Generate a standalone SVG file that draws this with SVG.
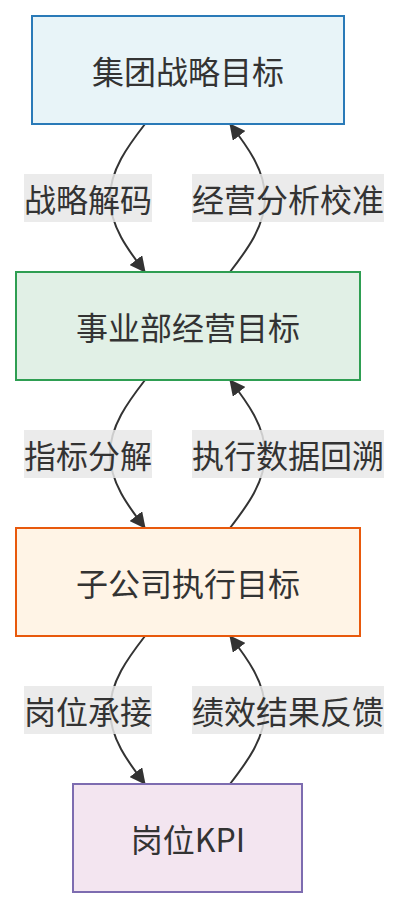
<svg xmlns="http://www.w3.org/2000/svg" width="400" height="908" viewBox="0 0 400 908">
<style>
.t{font-family:"Noto Sans CJK SC","Noto Sans",sans-serif;font-size:32px;fill:#333;text-anchor:middle;dominant-baseline:central}
.e{fill:none;stroke:#333;stroke-width:2}
.lb{fill:#e8e8e8;opacity:0.85}
</style>
<defs>
<marker id="a" viewBox="0 0 16 16" refX="15" refY="8" markerWidth="16" markerHeight="16" markerUnits="userSpaceOnUse" orient="auto">
<path d="M0,0 L16,8 L0,16 z" fill="#333"/>
</marker>
</defs>
<rect width="400" height="908" fill="#fff"/>
<g id="edges">
<path class="e" marker-end="url(#a)" d="M145,124 C128,146 110,170 110,198 C110,226 128,250 145,272"/>
<path class="e" marker-end="url(#a)" d="M230,272 C247,250 265,226 265,198 C265,170 247,146 230,124"/>
<path class="e" marker-end="url(#a)" d="M145,380 C128,402 110,426 110,454 C110,482 128,506 145,528"/>
<path class="e" marker-end="url(#a)" d="M230,528 C247,506 265,482 265,454 C265,426 247,402 230,380"/>
<path class="e" marker-end="url(#a)" d="M145,636 C128,658 110,682 110,710 C110,738 128,762 145,784"/>
<path class="e" marker-end="url(#a)" d="M230,784 C247,762 265,738 265,710 C265,682 247,658 230,636"/>
<g id="labels">
<rect class="lb" x="24" y="174" width="128" height="48"/>
<text class="t" x="88" y="198">战略解码</text>
<rect class="lb" x="192" y="174" width="192" height="48"/>
<text class="t" x="288" y="198">经营分析校准</text>
<rect class="lb" x="24" y="430" width="128" height="48"/>
<text class="t" x="88" y="454">指标分解</text>
<rect class="lb" x="192" y="430" width="192" height="48"/>
<text class="t" x="288" y="454">执行数据回溯</text>
<rect class="lb" x="24" y="686" width="128" height="48"/>
<text class="t" x="88" y="710">岗位承接</text>
<rect class="lb" x="192" y="686" width="192" height="48"/>
<text class="t" x="288" y="710">绩效结果反馈</text>
</g>
</g>
<g id="n1">
<rect x="32" y="16" width="312" height="108" fill="#e8f4f8" stroke="#2a7ab8" stroke-width="2"/>
<text class="t" x="188" y="70">集团战略目标</text>
</g>
<g id="n2">
<rect x="16" y="272" width="344" height="108" fill="#e1f0e6" stroke="#2e9e52" stroke-width="2"/>
<text class="t" x="188" y="326">事业部经营目标</text>
</g>
<g id="n3">
<rect x="16" y="528" width="344" height="108" fill="#fff4e6" stroke="#e8590c" stroke-width="2"/>
<text class="t" x="188" y="582">子公司执行目标</text>
</g>
<g id="n4">
<rect x="73" y="784" width="229" height="108" fill="#f3e5f0" stroke="#7d6cb0" stroke-width="2"/>
<text class="t" x="188" y="838">岗位KPI</text>
</g>
</svg>
